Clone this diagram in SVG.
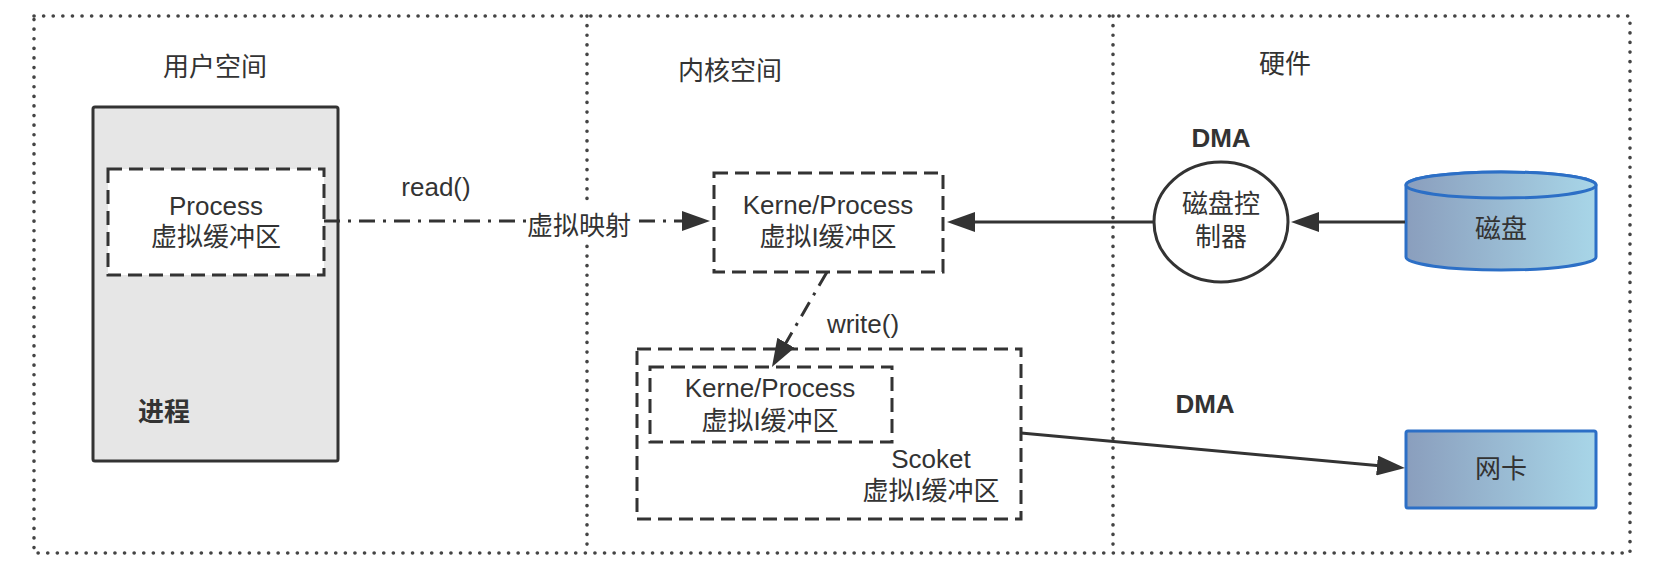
<svg xmlns="http://www.w3.org/2000/svg" width="1658" height="574" viewBox="0 0 1658 574">
<style>
text{font-family:"Liberation Sans","Noto Sans CJK SC",sans-serif;fill:#333;font-size:26px;text-anchor:middle}
.b{font-weight:bold}
.dot{fill:none;stroke:#444;stroke-width:3.6;stroke-dasharray:0.1 9.5;stroke-linecap:round}
.dash{fill:#fff;stroke:#333;stroke-width:3;stroke-dasharray:14 7}
.solid{fill:none;stroke:#333;stroke-width:3}
.dd{fill:none;stroke:#333;stroke-width:3;stroke-dasharray:16 8 3 8}
.blue{stroke:#2c6fc6;stroke-width:3;fill:url(#g)}
</style>
<defs>
<linearGradient id="g" x1="0" y1="0" x2="1" y2="0">
<stop offset="0" stop-color="#8a9ebd"/>
<stop offset="1" stop-color="#a8d6e8"/>
</linearGradient>
<marker id="ah" markerUnits="userSpaceOnUse" markerWidth="28" markerHeight="20" refX="8" refY="10" orient="auto" viewBox="0 0 28 20">
<path d="M0,0 L28,10 L0,20 Z" fill="#333"/>
</marker>
</defs>
<g id="regions">
<rect class="dot" x="34" y="16" width="1596" height="537"/>
<line class="dot" x1="587" y1="16" x2="587" y2="553"/>
<line class="dot" x1="1113" y1="16" x2="1113" y2="553"/>
<text x="215" y="76">用户空间</text>
<text x="730" y="80">内核空间</text>
<text x="1285" y="73">硬件</text>
</g>
<g id="process">
<rect x="93" y="107" width="245" height="354" rx="2" fill="#e6e6e6" stroke="#333" stroke-width="3"/>
<text class="b" x="164" y="421" font-size="25">进程</text>
</g>
<g id="process-buffer">
<rect class="dash" x="108" y="169" width="216" height="106"/>
<text x="216" y="215">Process</text>
<text x="216" y="246">虚拟缓冲区</text>
</g>
<g id="kernel-buffer">
<rect class="dash" x="714" y="173" width="229" height="99"/>
<text x="828" y="214">Kerne/Process</text>
<text x="828" y="246">虚拟I缓冲区</text>
</g>
<g id="socket-buffer">
<rect class="dash" x="637" y="349" width="384" height="170"/>
<text x="931" y="468">Scoket</text>
<text x="931" y="500">虚拟I缓冲区</text>
</g>
<g id="socket-inner">
<rect class="dash" x="650" y="367" width="242" height="75"/>
<text x="770" y="397">Kerne/Process</text>
<text x="770" y="430">虚拟I缓冲区</text>
</g>
<g id="disk-controller">
<text class="b" x="1221" y="147">DMA</text>
<ellipse cx="1221" cy="222" rx="67" ry="60" fill="#fff" stroke="#333" stroke-width="3"/>
<text x="1221" y="213">磁盘控</text>
<text x="1221" y="246">制器</text>
</g>
<g id="disk">
<path class="blue" d="M1406,185 L1406,257 A95,13 0 0 0 1596,257 L1596,185 A95,13 0 0 0 1406,185 Z"/>
<ellipse class="blue" cx="1501" cy="185" rx="95" ry="13"/>
<text x="1501" y="238">磁盘</text>
</g>
<g id="nic">
<rect class="blue" x="1406" y="431" width="190" height="77" rx="2"/>
<text x="1501" y="478">网卡</text>
</g>
<g id="connectors">
<line class="dd" x1="324" y1="221" x2="690" y2="221" marker-end="url(#ah)"/>
<rect x="526" y="204" width="106" height="36" fill="#fff"/>
<text x="579" y="235">虚拟映射</text>
<text x="436" y="196">read()</text>
<line class="solid" x1="1153" y1="222" x2="967" y2="222" marker-end="url(#ah)"/>
<line class="solid" x1="1405" y1="222" x2="1311" y2="222" marker-end="url(#ah)"/>
<line class="dd" x1="827" y1="272" x2="782" y2="349.7" marker-end="url(#ah)"/>
<text x="863" y="333">write()</text>
<polyline class="solid" points="1021,433 1385,466.2" marker-end="url(#ah)"/>
<text class="b" x="1205" y="413">DMA</text>
</g>
</svg>
